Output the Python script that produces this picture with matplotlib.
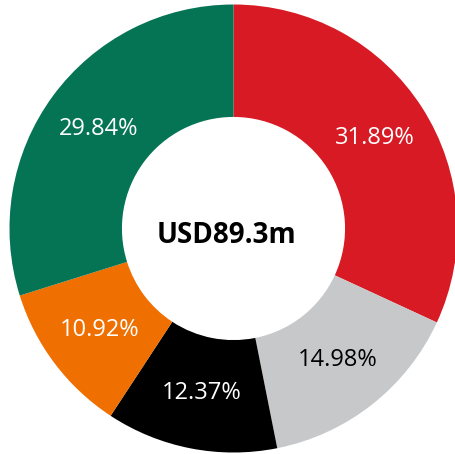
import matplotlib.pyplot as plt

shares = [31.89, 14.98, 12.37, 10.92, 29.84]
colors = ['#D71A23', '#C7C8CA', '#000000', '#EF6F00', '#047454']
text_colors = ['white', 'black', 'white', 'white', 'white']
total_label = 'USD89.3m'

plt.rcParams['font.family'] = ['Open Sans', 'DejaVu Sans']

fig = plt.figure(figsize=(4.56, 4.54), dpi=100)
ax = fig.add_axes([0.0208, 0.0033, 0.9825, 0.9868])

wedges, texts, autotexts = ax.pie(
    shares, colors=colors, startangle=90, counterclock=False, radius=1,
    wedgeprops=dict(width=0.502, linewidth=0),
    autopct=lambda p: f'{p:.2f}%', pctdistance=0.749,
    textprops=dict(fontsize=17))
for t, c in zip(autotexts, text_colors):
    t.set_color(c)

ax.set_xlim(-1, 1)
ax.set_ylim(-1, 1)
ax.axis('off')
ax.text(-0.03, -0.03, total_label, ha='center', va='center',
        fontsize=20, fontweight='bold', color='black')

fig.savefig('out.png', dpi=100)
